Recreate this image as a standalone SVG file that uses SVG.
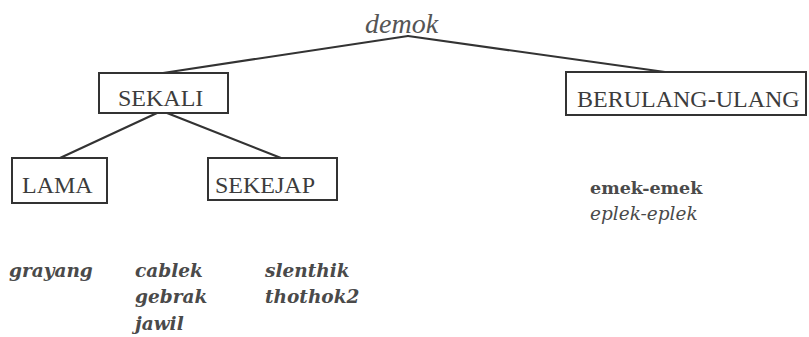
<svg xmlns="http://www.w3.org/2000/svg" width="809" height="337" viewBox="0 0 809 337">
<style>
.bg{fill:#ffffff}
.box{fill:#ffffff;stroke:#333333;stroke-width:2}
.lbl{font-family:"Liberation Serif","Times New Roman",serif;font-size:24px;fill:#3c3c3c}
.root{font-family:"Liberation Serif","Times New Roman",serif;font-size:28px;font-style:italic;fill:#555555}
.edge{stroke:#333333;stroke-width:2.2;fill:none;stroke-linecap:round}
.w{font-family:"DejaVu Serif",serif;font-size:18.5px;font-style:italic;fill:#4a4a4a}
.wb{font-weight:bold}
.em{font-family:"DejaVu Serif",serif;font-size:17.5px;font-weight:bold;fill:#4a4a4a}
</style>
<rect class="bg" x="0" y="0" width="809" height="337"/>
<g id="connectors">
<line class="edge" x1="408" y1="36" x2="163" y2="73"/>
<line class="edge" x1="408" y1="36" x2="665" y2="72"/>
<line class="edge" x1="157" y1="113" x2="60" y2="158"/>
<line class="edge" x1="167" y1="113" x2="281" y2="158"/>
</g>
<g id="demok">
<text class="root" x="365" y="33">demok</text>
</g>
<g id="sekali">
<rect class="box" x="99" y="73" width="129" height="40"/>
<text class="lbl" x="118" y="106">SEKALI</text>
</g>
<g id="berulang">
<rect class="box" x="566" y="72" width="240" height="43"/>
<text class="lbl" x="577" y="107">BERULANG-ULANG</text>
</g>
<g id="lama">
<rect class="box" x="12" y="158" width="95" height="45"/>
<text class="lbl" x="22" y="193">LAMA</text>
</g>
<g id="sekejap">
<rect class="box" x="208" y="158" width="129" height="42"/>
<text class="lbl" x="215" y="193">SEKEJAP</text>
</g>
<g id="words-lama">
<text class="w wb" x="9" y="277">grayang</text>
</g>
<g id="words-sekejap">
<text class="w wb" x="135" y="277">cablek</text>
<text class="w wb" x="135" y="303">gebrak</text>
<text class="w wb" x="135" y="330">jawil</text>
<text class="w wb" x="265" y="277">slenthik</text>
<text class="w wb" x="265" y="303">thothok2</text>
</g>
<g id="words-berulang">
<text class="em" x="590" y="194">emek-emek</text>
<text class="w" x="590" y="220">eplek-eplek</text>
</g>
</svg>
